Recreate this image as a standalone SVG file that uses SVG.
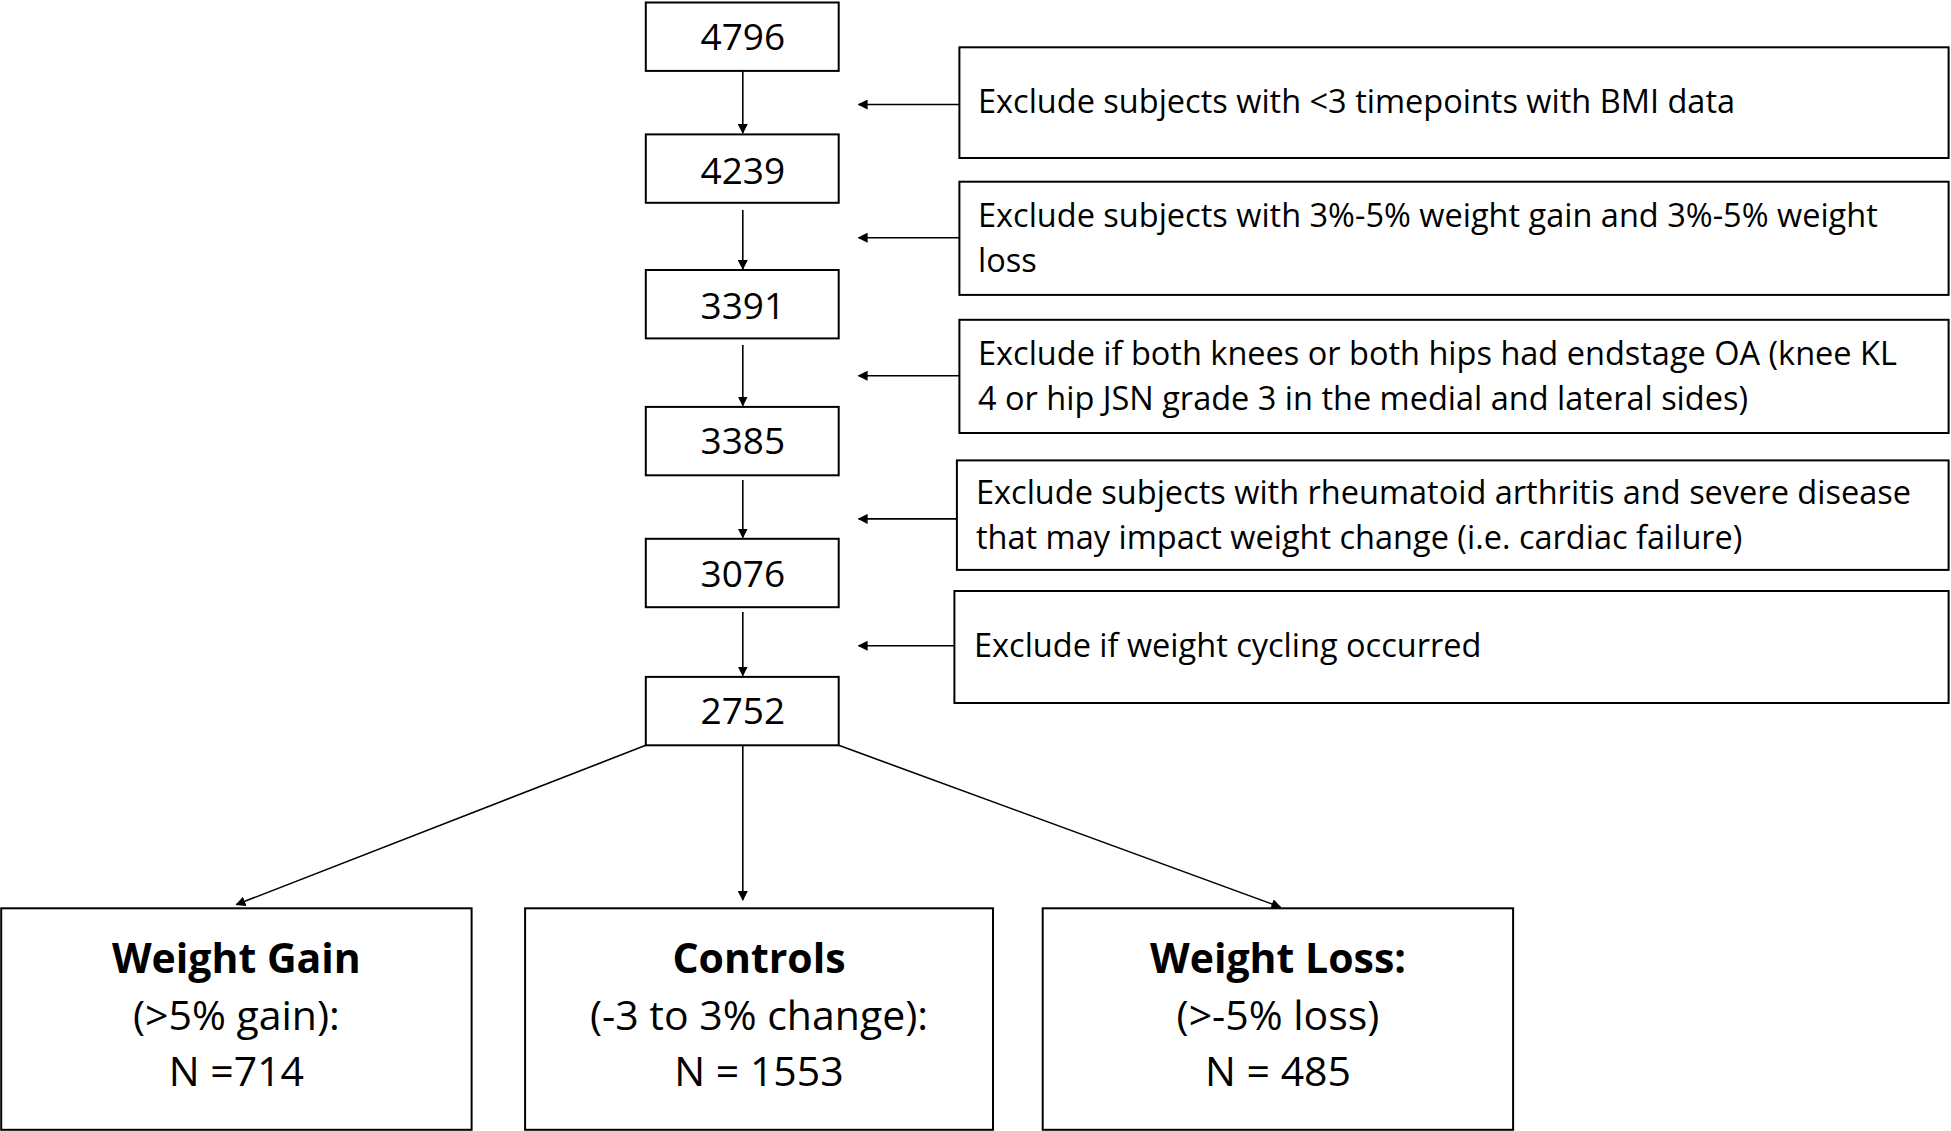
<svg xmlns="http://www.w3.org/2000/svg" width="1951" height="1131" viewBox="0 0 1951 1131">
<style>
.b{fill:#fff;stroke:#000;stroke-width:2}
.c{stroke:#000;stroke-width:1.6;fill:none;marker-end:url(#a)}
.n{font-family:"Open Sans","Liberation Sans",sans-serif;font-size:37px;text-anchor:middle}
.t{font-family:"Open Sans","Liberation Sans",sans-serif;font-size:32.5px}
.g{font-family:"Open Sans","Liberation Sans",sans-serif;font-size:41px;text-anchor:middle}
</style>
<defs><marker id="a" markerWidth="10" markerHeight="10" refX="9" refY="5" orient="auto" markerUnits="userSpaceOnUse"><path d="M0,0L10,5L0,10z"/></marker></defs>
<rect width="1951" height="1131" fill="#fff"/>
<g id="connectors">
<line class="c" x1="742.8" y1="70.9" x2="742.8" y2="133"/>
<line class="c" x1="742.8" y1="210" x2="742.8" y2="269"/>
<line class="c" x1="742.8" y1="345" x2="742.8" y2="405.5"/>
<line class="c" x1="742.8" y1="480" x2="742.8" y2="537.5"/>
<line class="c" x1="742.8" y1="612" x2="742.8" y2="675.5"/>
<line class="c" x1="959.4" y1="104.5" x2="858.6" y2="104.5"/>
<line class="c" x1="959.4" y1="237.7" x2="858.6" y2="237.7"/>
<line class="c" x1="959.4" y1="375.8" x2="858.6" y2="375.8"/>
<line class="c" x1="956.9" y1="518.9" x2="858.6" y2="518.9"/>
<line class="c" x1="954.4" y1="645.8" x2="858.6" y2="645.8"/>
<line class="c" x1="645.8" y1="745.3" x2="236.4" y2="904.6"/>
<line class="c" x1="742.8" y1="745.3" x2="742.8" y2="900"/>
<line class="c" x1="838.7" y1="745.3" x2="1280.4" y2="907.1"/>
</g>
<g id="n4796"><rect class="b" x="645.8" y="2.5" width="192.9" height="68.4"/><text class="n" x="742.8" y="49.8">4796</text></g>
<g id="n4239"><rect class="b" x="645.8" y="134.4" width="192.9" height="68.4"/><text class="n" x="742.8" y="184.2">4239</text></g>
<g id="n3391"><rect class="b" x="645.8" y="270" width="192.9" height="68.4"/><text class="n" x="742.8" y="318.5">3391</text></g>
<g id="n3385"><rect class="b" x="645.8" y="406.9" width="192.9" height="68.4"/><text class="n" x="742.8" y="454.2">3385</text></g>
<g id="n3076"><rect class="b" x="645.8" y="538.8" width="192.9" height="68.4"/><text class="n" x="742.8" y="587.3">3076</text></g>
<g id="n2752"><rect class="b" x="645.8" y="676.9" width="192.9" height="68.4"/><text class="n" x="742.8" y="724.2">2752</text></g>
<g id="e1"><rect class="b" x="959.4" y="47.3" width="989.2" height="110.7"/><text class="t" x="978" y="113">Exclude subjects with &lt;3 timepoints with BMI data</text></g>
<g id="e2"><rect class="b" x="959.4" y="181.7" width="989.2" height="113.2"/><text class="t" x="978" y="226.7">Exclude subjects with 3%-5% weight gain and 3%-5% weight</text><text class="t" x="978" y="271.5">loss</text></g>
<g id="e3"><rect class="b" x="959.4" y="319.8" width="989.2" height="113.2"/><text class="t" x="978" y="364.8">Exclude if both knees or both hips had endstage OA (knee KL</text><text class="t" x="978" y="409.6">4 or hip JSN grade 3 in the medial and lateral sides)</text></g>
<g id="e4"><rect class="b" x="956.9" y="460.4" width="991.7" height="109.5"/><text class="t" x="976" y="504.2">Exclude subjects with rheumatoid arthritis and severe disease</text><text class="t" x="976" y="549">that may impact weight change (i.e. cardiac failure)</text></g>
<g id="e5"><rect class="b" x="954.4" y="591" width="994.2" height="112"/><text class="t" x="974" y="657.2">Exclude if weight cycling occurred</text></g>
<g id="gain"><rect class="b" x="1.2" y="908.3" width="470.4" height="221.5"/><text class="g" x="236.4" y="973" font-weight="bold">Weight Gain</text><text class="g" x="236.4" y="1030.3">(&gt;5% gain):</text><text class="g" x="236.4" y="1086.3">N =714</text></g>
<g id="controls"><rect class="b" x="525.1" y="908.3" width="467.9" height="221.5"/><text class="g" x="759" y="973" font-weight="bold">Controls</text><text class="g" x="759" y="1030.3">(-3 to 3% change):</text><text class="g" x="759" y="1086.3">N = 1553</text></g>
<g id="loss"><rect class="b" x="1042.7" y="908.3" width="470.4" height="221.5"/><text class="g" x="1278" y="973" font-weight="bold">Weight Loss:</text><text class="g" x="1278" y="1030.3">(&gt;-5% loss)</text><text class="g" x="1278" y="1086.3">N = 485</text></g>
</svg>
